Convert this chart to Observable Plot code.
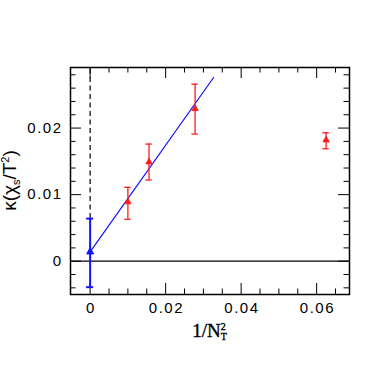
<!DOCTYPE html>
<html><head><meta charset="utf-8">
<script src="https://cdn.jsdelivr.net/npm/d3@7"></script>
<script src="https://cdn.jsdelivr.net/npm/@observablehq/plot@0.6"></script>
<style>body{margin:0;background:#fff}#chart svg{display:block}</style>
</head><body><div id="chart"></div>
<script>
// Lattice data (red, finite N_T) and continuum extrapolation (blue)
const redX  = [0.01, 0.0156, 0.0278, 0.0625];
const redY  = [0.0089, 0.0149, 0.0229, 0.0182];
const redLo = [0.0063, 0.0122, 0.0191, 0.0169];
const redHi = [0.0111, 0.0176, 0.0266, 0.0193];
const blueX  = [0];
const blueY  = [0.0014];
const blueLo = [-0.0039];
const blueHi = [0.0064];
const fitX = [0, 0.0327];
const fitY = [0.0014, 0.0276];
const xDomain = [-0.0052, 0.0687];
const yDomain = [-0.005, 0.0291];
const xMajor = [0, 0.02, 0.04, 0.06];
const xMinor = [0.005, 0.01, 0.015, 0.025, 0.03, 0.035, 0.045, 0.05, 0.055, 0.065];
const yMajor = [0, 0.01, 0.02];
const yMinor = [-0.004, -0.002, 0.002, 0.004, 0.006, 0.008, 0.012, 0.014, 0.016, 0.018, 0.022, 0.024, 0.026, 0.028];
const xTickLabels = ["0", "0.02", "0.04", "0.06"];
const yTickLabels = ["0", "0.01", "0.02"];

const red = redX.map((x, i) => ({x, y: redY[i], lo: redLo[i], hi: redHi[i]}));
const blue = blueX.map((x, i) => ({x, y: blueY[i], lo: blueLo[i], hi: blueHi[i]}));
const fit = fitX.map((x, i) => ({x, y: fitY[i]}));

const W = 382, H = 382, mL = 70, mR = 33, mT = 67, mB = 88;
const iW = W - mL - mR, iH = H - mT - mB;
const MAJ = 11, MIN = 5.5;
const RED = "#ff1a1a", BLUE = "#1010ff";

const plot = Plot.plot({
  width: W, height: H,
  marginLeft: mL, marginRight: mR, marginTop: mT, marginBottom: mB,
  style: {fontFamily: "'Liberation Sans', Arial, sans-serif", background: "#fff", color: "#000"},
  x: {domain: xDomain},
  y: {domain: yDomain},
  marks: [
    // inward ticks
    Plot.tickX(xMajor, {x: d => d, insetTop: iH - MAJ, stroke: "#000"}),
    Plot.tickX(xMajor, {x: d => d, insetBottom: iH - MAJ, stroke: "#000"}),
    Plot.tickX(xMinor, {x: d => d, insetTop: iH - MIN, stroke: "#000"}),
    Plot.tickX(xMinor, {x: d => d, insetBottom: iH - MIN, stroke: "#000"}),
    Plot.tickY(yMajor, {y: d => d, insetRight: iW - MAJ, stroke: "#000"}),
    Plot.tickY(yMajor, {y: d => d, insetLeft: iW - MAJ, stroke: "#000"}),
    Plot.tickY(yMinor, {y: d => d, insetRight: iW - MIN, stroke: "#000"}),
    Plot.tickY(yMinor, {y: d => d, insetLeft: iW - MIN, stroke: "#000"}),
    // tick labels
    Plot.axisX({ticks: xMajor, tickSize: 0, tickPadding: 8, fontSize: 15, label: null,
      tickFormat: d => xTickLabels[xMajor.indexOf(d)]}),
    Plot.axisY({ticks: yMajor, tickSize: 0, tickPadding: 8, fontSize: 15, label: null,
      tickFormat: d => yTickLabels[yMajor.indexOf(d)]}),
    // zero line
    Plot.ruleY([0], {stroke: "#000", strokeWidth: 1.3}),
    // dashed line above the extrapolated point
    Plot.ruleX(blue, {x: "x", y1: "hi", y2: () => yDomain[1], stroke: "#000", strokeWidth: 1.2, strokeDasharray: "5,3.5"}),
    // fit
    Plot.line(fit, {x: "x", y: "y", stroke: BLUE, strokeWidth: 1.2}),
    // red error bars
    Plot.ruleX(red, {x: "x", y1: "lo", y2: "hi", stroke: RED, strokeWidth: 1.3}),
    Plot.ruleY(red, {y: "hi", x1: "x", x2: "x", insetLeft: -3.2, insetRight: -3.2, stroke: RED, strokeWidth: 1.3}),
    Plot.ruleY(red, {y: "lo", x1: "x", x2: "x", insetLeft: -3.2, insetRight: -3.2, stroke: RED, strokeWidth: 1.3}),
    Plot.dot(red, {x: "x", y: "y", symbol: "triangle", r: 2.4, fill: RED, stroke: RED, strokeWidth: 0.8}),
    // blue
    Plot.ruleX(blue, {x: "x", y1: "lo", y2: "hi", stroke: BLUE, strokeWidth: 2}),
    Plot.ruleY(blue, {y: "hi", x1: "x", x2: "x", insetLeft: -3.5, insetRight: -3.5, stroke: BLUE, strokeWidth: 2}),
    Plot.ruleY(blue, {y: "lo", x1: "x", x2: "x", insetLeft: -3.5, insetRight: -3.5, stroke: BLUE, strokeWidth: 2}),
    Plot.dot(blue, {x: "x", y: "y", symbol: "triangle", r: 2.6, fill: BLUE, stroke: BLUE, strokeWidth: 1}),
    Plot.frame({stroke: "#000", strokeWidth: 1.5})
  ]
});

const svg = d3.select(plot);
svg.selectAll("g[aria-label='x-axis tick label'] text, g[aria-label='y-axis tick label'] text")
  .style("letter-spacing", "1.5px");
svg.selectAll("g[aria-label='x-axis tick label'] text").attr("dx", 0.75);

// x axis title: 1/N_T^2
const xt = svg.append("text")
  .attr("x", (mL + W - mR) / 2).attr("y", 337)
  .attr("text-anchor", "middle")
  .attr("font-family", "'Liberation Serif', 'Times New Roman', serif")
  .attr("font-size", 19).attr("fill", "#000")
  .attr("stroke", "#000").attr("stroke-width", 0.35);
xt.append("tspan").text("1/N");
xt.append("tspan").attr("font-size", 10).attr("dy", -7).text("2");
xt.append("tspan").attr("font-size", 10).attr("dx", -5).attr("dy", 10).text("T");

// y axis title: κ(χ_s/T^2)
const yt = svg.append("text")
  .attr("transform", `translate(16,${(mT + H - mB) / 2}) rotate(-90)`)
  .attr("text-anchor", "middle")
  .attr("font-family", "'Liberation Sans', Arial, sans-serif")
  .attr("font-size", 19).attr("fill", "#000");
yt.append("tspan").text("κ(χ");
yt.append("tspan").attr("font-size", 11).attr("dy", 4).text("s");
yt.append("tspan").attr("dy", -4).text("/T");
yt.append("tspan").attr("font-size", 11).attr("dy", -7).text("2");
yt.append("tspan").attr("dy", 7).text(")");

document.getElementById("chart").appendChild(plot);
</script>
</body></html>
